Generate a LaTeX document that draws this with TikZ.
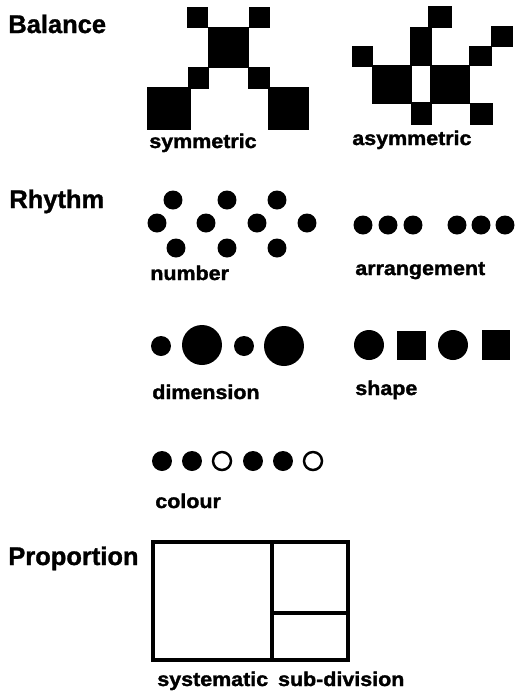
\documentclass[tikz,border=0pt]{standalone}
\usepackage{fontspec}
\setmainfont{Liberation Sans}
\newfontfamily\headfont[FakeBold=1.2]{Liberation Sans Bold}
\newfontfamily\capfont[FakeBold=1.6,FakeStretch=1.08]{Liberation Sans Bold}
\usetikzlibrary{positioning}

\begin{document}
\begin{tikzpicture}[x=0.02cm,y=-0.02cm]

  % Define styles
  \tikzset{heading/.style={anchor=base west, inner sep=0pt, font=\fontsize{14.5}{16}\headfont},
    caption/.style={anchor=base west, inner sep=0pt, font=\fontsize{11.3}{14}\capfont},
    ring/.style={draw=black, line width=1.4pt, fill=white},
    frame/.style={draw=black, line width=1.9pt}}

  \useasboundingbox (0,0) rectangle (516,694);

  % Headings
  \node[heading] (balance) at (8,33) {Balance};
  \node[heading] (rhythm) at (9,208) {Rhythm};
  \node[heading] (proportion) at (8,565) {Proportion};

  % Symmetric squares
  \fill (208,27) rectangle (249,68);
  \fill (187,7) rectangle (208,28);
  \fill (249,7) rectangle (270,28);
  \fill (188,67) rectangle (209,89);
  \fill (248,67) rectangle (270,89);
  \fill (147,87) rectangle (191,130);
  \fill (268,87) rectangle (309,130);
  \node[caption] (sym) at (149,148) {symmetric};

  % Asymmetric squares
  \fill (428,6) rectangle (452,28);
  \fill (410,27) rectangle (432,66);
  \fill (352,46) rectangle (373,67);
  \fill (372,65) rectangle (412,104);
  \fill (430,65) rectangle (470,104);
  \fill (469,46) rectangle (492,66);
  \fill (491,26) rectangle (513,47);
  \fill (411,102) rectangle (432,125);
  \fill (470,103) rectangle (493,125);
  \node[caption] (asym) at (352,145) {asymmetric};

  % Number
  \foreach \x in {173,227,277} \fill (\x,200) circle (0.19cm);
  \foreach \x in {157,206,257,307} \fill (\x,223) circle (0.19cm);
  \foreach \x in {176,227,277} \fill (\x,248) circle (0.19cm);
  \node[caption] (num) at (150,280) {number};

  % Arrangement
  \foreach \x in {363,388,413,457,481,505} \fill (\x,225) circle (0.19cm);
  \node[caption] (arr) at (355,275) {arrangement};

  % Dimension
  \fill (161,346) circle (0.2cm);
  \fill (202,345) circle (0.4cm);
  \fill (244,346) circle (0.2cm);
  \fill (284,346) circle (0.4cm);
  \node[caption] (dim) at (152,399) {dimension};

  % Shape
  \fill (369,345) circle (0.3cm);
  \fill (397,331) rectangle (426,360);
  \fill (453,345) circle (0.3cm);
  \fill (482,330) rectangle (510,360);
  \node[caption] (shp) at (355,395) {shape};

  % Colour
  \foreach \x in {162,192,253,283} \fill (\x,461) circle (0.2cm);
  \foreach \x in {222,313} \draw[ring] (\x,461) circle (0.18cm);
  \node[caption] (col) at (155,508) {colour};

  % Proportion
  \draw[frame] (153,542) rectangle (348,660);
  \draw[frame] (272,542) -- (272,660);
  \draw[frame] (272,613) -- (348,613);
  \node[caption] (sysdiv) at (157,686) {systematic\hspace{0.5em}sub-division};

\end{tikzpicture}
\end{document}
